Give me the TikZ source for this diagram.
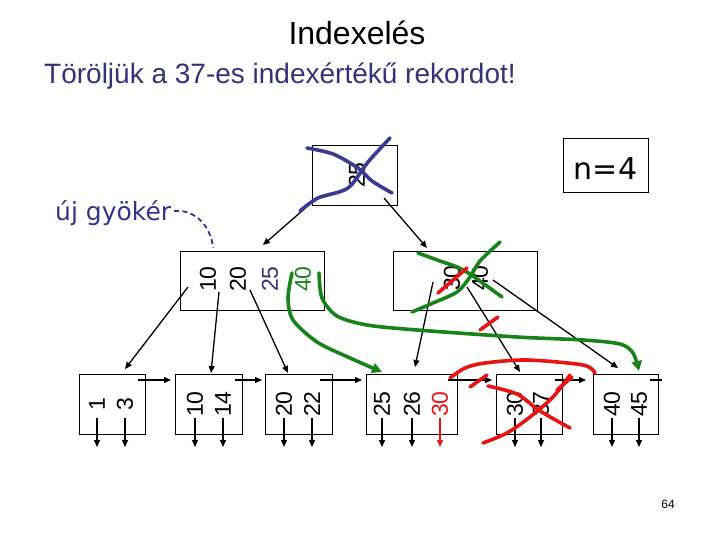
\documentclass[tikz,border=0pt]{standalone}
\usepackage{fontspec}
\setmainfont{Liberation Sans}
\newfontfamily\dejavu{DejaVu Sans}
\usetikzlibrary{arrows.meta}
\definecolor{penblue}{RGB}{58,58,150}
\definecolor{pengreen}{RGB}{25,130,25}
\definecolor{penred}{RGB}{232,20,20}
\definecolor{txtblue}{RGB}{51,51,120}
\definecolor{gyblue}{RGB}{51,51,140}
\begin{document}
\begin{tikzpicture}[x=1pt,y=-1pt,
  box/.style={draw,line width=0.8pt,inner sep=0pt},
  key/.style={rotate=90,font=\fontsize{23}{23}\selectfont,inner sep=0pt},
  ptr/.style={line width=1.3pt,-{Triangle[length=7pt,width=6pt]}},
  pen/.style={line width=3.6pt,line cap=round,line join=round},
  penarrow/.style={-{Triangle[length=10pt,width=10pt]}},
]
\useasboundingbox (0,0) rectangle (720,540);

% titles
\node[anchor=base,font=\fontsize{32}{32}\selectfont] (title) at (357,45) {Indexelés};
\node[anchor=base west,font=\fontsize{28}{28}\selectfont,text=txtblue,inner sep=0pt] (sub) at (44,84) {Töröljük a 37-es indexértékű rekordot!};
\node[anchor=base west,font=\dejavu\fontsize{25}{25}\selectfont,text=gyblue,inner sep=0pt] (gy) at (55,221) {új gyökér};
\node[anchor=base,font=\fontsize{12}{12}\selectfont] (page) at (668,508) {64};

% n=4 box
\node[box,minimum width=85pt,minimum height=54pt] (nbox) at (605.5,165) {};
\node[anchor=base,font=\dejavu\fontsize{30}{30}\selectfont,inner sep=0pt] (ntext) at (605.5,180) {n=4};

% root
\node[box,minimum width=85pt,minimum height=60pt] (root) at (354.5,175) {};
\node[key] (r25) at (357,175) {25};

% internal nodes
\node[box,minimum width=144pt,minimum height=59pt] (IL) at (252,280.5) {};
\node[key] (il10) at (208,279) {10};
\node[key] (il20) at (238,279) {20};
\node[key,text=txtblue] (il25) at (270,279) {25};
\node[key,text=pengreen] (il40) at (303,279) {40};

\node[box,minimum width=144pt,minimum height=59pt] (IM) at (465,280.5) {};
\node[key] (im30) at (452,278) {30};
\node[key] (im40) at (480,278) {40};

% leaves
\node[box,minimum width=66pt,minimum height=60pt] (L1) at (112,404) {};
\node[box,minimum width=67pt,minimum height=60pt] (L2) at (208.5,404) {};
\node[box,minimum width=67pt,minimum height=60pt] (L3) at (298.5,404) {};
\node[box,minimum width=91pt,minimum height=60pt] (L4) at (411.5,404) {};
\node[box,minimum width=66pt,minimum height=60pt] (L5) at (529,404) {};
\node[box,minimum width=65pt,minimum height=60pt] (L6) at (625.5,404) {};

\foreach \x/\t/\n in {97/1/a,125/3/b,195/10/c,223/14/d,284/20/e,312/22/f,382/25/g,412/26/h,515/30/j,541/37/k,612/40/l,639/45/m}{
  \node[key] (k\n) at (\x,404) {\t};
  \coordinate (p\n s) at (\x,418);
  \coordinate (p\n e) at (\x,447);
  \draw[ptr] (p\n s) -- (p\n e);
}
\node[key,text=penred] (ki) at (440,404) {30};
\coordinate (pis) at (440,418);
\coordinate (pie) at (440,447);
\draw[ptr,penred] (pis) -- (pie);

% next pointers
\foreach \a/\b/\n in {138/171/1,235/262/2,320/362/3,448/492/4,555/586/5}{
  \coordinate (n\n s) at (\a,380);
  \coordinate (n\n e) at (\b,380);
  \draw[ptr] (n\n s) -- (n\n e);
}
\coordinate (n6s) at (650,380);
\coordinate (n6e) at (662,380);
\draw[line width=1.3pt] (n6s) -- (n6e);

% root pointers
\coordinate (rs1) at (318,197); \coordinate (re1) at (263,245);
\coordinate (rs2) at (384,198); \coordinate (re2) at (427,248);
\draw[ptr] (rs1) -- (re1);
\draw[ptr] (rs2) -- (re2);

% internal left pointers
\coordinate (ls1) at (188,287); \coordinate (le1) at (125,369);
\coordinate (ls2) at (219,292); \coordinate (le2) at (211,373);
\coordinate (ls3) at (250,290); \coordinate (le3) at (288,373);
\draw[ptr] (ls1) -- (le1);
\draw[ptr] (ls2) -- (le2);
\draw[ptr] (ls3) -- (le3);

% internal middle pointers
\coordinate (ms1) at (433,282); \coordinate (me1) at (415,367);
\coordinate (ms2) at (467,287); \coordinate (me2) at (520,372);
\coordinate (ms3) at (493,280); \coordinate (me3) at (618,368);
\draw[ptr] (ms1) -- (me1);
\draw[ptr] (ms2) -- (me2);
\draw[ptr] (ms3) -- (me3);

% dashed curve from "új gyökér"
\coordinate (gs) at (174,211);
\coordinate (ge) at (213,248);
\draw[gyblue,line width=1.8pt,dash pattern=on 5pt off 3.5pt] (gs) .. controls (195,209) and (211,226) .. (ge);

% blue X over root
\draw[pen,penblue] plot[smooth] coordinates {(307,148) (333,154) (358,168) (372,181) (392,193)};
\draw[pen,penblue] plot[smooth] coordinates {(390,138) (368,162) (348,188) (318,198) (300,211)};

% green strokes
\draw[pen,pengreen,penarrow] plot[smooth] coordinates {(292,273) (288,298) (293,320) (317,342) (350,358) (382,372)};
\draw[pen,pengreen,penarrow] plot[smooth] coordinates {(319,273) (322,298) (337,316) (367,325) (417,330) (517,337) (583,340) (620,344) (633,353) (639,371)};
\draw[pen,pengreen] plot[smooth] coordinates {(418,253) (440,261) (457,267) (470,274) (484,284) (502,297)};
\draw[pen,pengreen] plot[smooth] coordinates {(412,312) (433,303) (457,292) (470,277) (480,261) (500,242)};

% red strokes
\draw[pen,penred] (438,293) -- (467,268);
\draw[pen,penred] (480,330) -- (498,317);
\draw[pen,penred] plot[smooth] coordinates {(450,378) (465,368) (485,363) (527,360) (583,365) (595,373)};
\draw[pen,penred] (470,387) -- (487,375);
\draw[pen,penred] (557,390) -- (572,377);
\draw[pen,penred] plot[smooth] coordinates {(488,386) (517,394) (537,409) (552,418) (570,428)};
\draw[pen,penred] plot[smooth] coordinates {(483,443) (507,433) (530,417) (553,397) (570,375)};
\end{tikzpicture}
\end{document}
